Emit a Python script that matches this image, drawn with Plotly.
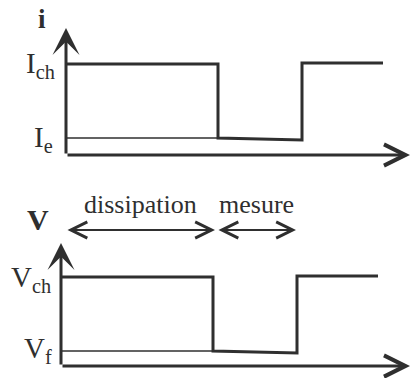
import plotly.graph_objects as go

# Switching instants (same time base for both panels)
t_points = [0, 15.2, 15.2, 23.6, 23.6, 31.7]

# Current waveform: charge level, then measurement level, then back to charge
i_values = [9.1, 9.1, 1.7, 1.5, 9.2, 9.2]
I_e_level = 1.7
i_axis_top = 12.7
i_axis_end = 34.4

# Voltage waveform
v_values = [8.9, 8.9, 1.5, 1.3, 9.0, 9.0]
V_f_level = 1.5
v_axis_top = 12.3
v_axis_end = 34.9

# Phase spans above the voltage panel
phase_names = ["dissipation", "mesure"]
phase_spans = [(0.5, 15.4), (15.6, 23.5)]
phase_y = 13.6

INK = "#2f2f2f"
SERIF = "Liberation Serif"

fig = go.Figure()

# current panel
fig.add_trace(go.Scatter(x=t_points, y=i_values, mode="lines",
                         line=dict(color=INK, width=3), xaxis="x", yaxis="y",
                         hoverinfo="skip"))
fig.add_trace(go.Scatter(x=[t_points[0], t_points[1]], y=[I_e_level, I_e_level],
                         mode="lines", line=dict(color=INK, width=1.6),
                         xaxis="x", yaxis="y", hoverinfo="skip"))

# voltage panel
fig.add_trace(go.Scatter(x=t_points, y=v_values, mode="lines",
                         line=dict(color=INK, width=3), xaxis="x2", yaxis="y2",
                         hoverinfo="skip"))
fig.add_trace(go.Scatter(x=[t_points[0], t_points[1]], y=[V_f_level, V_f_level],
                         mode="lines", line=dict(color=INK, width=1.6),
                         xaxis="x2", yaxis="y2", hoverinfo="skip"))

ann = []


def axis_arrow(xr, yr, x, y, head, size):
    ann.append(dict(x=x, y=y, ax=0, ay=0, xref=xr, yref=yr, axref=xr, ayref=yr,
                    text="", showarrow=True, arrowhead=head, arrowsize=size,
                    arrowwidth=3, arrowcolor=INK))


axis_arrow("x", "y", 0, i_axis_top, 3, 1.5)
axis_arrow("x", "y", i_axis_end, 0, 5, 1.4)
axis_arrow("x2", "y2", 0, v_axis_top, 3, 1.5)
axis_arrow("x2", "y2", v_axis_end, 0, 5, 1.4)

# double arrows marking the two phases
for name, (a, b) in zip(phase_names, phase_spans):
    ann.append(dict(x=b, y=phase_y, ax=a, ay=phase_y, xref="x2", yref="y2",
                    axref="x2", ayref="y2", text="", showarrow=True,
                    arrowhead=5, startarrowhead=5, arrowside="end+start",
                    arrowsize=1.6, startarrowsize=1.6, arrowwidth=2,
                    arrowcolor=INK))
    ann.append(dict(x=(a + b) / 2, y=16.2, xref="x2", yref="y2", text=name,
                    showarrow=False, font=dict(family=SERIF, size=26, color=INK)))

# axis names and level labels
labels = [
    ("x", "y", -2.4, 13.6, "<b>i</b>", "center", 27),
    ("x", "y", -0.9, 9.0, "I<sub>ch</sub>", "right", 29),
    ("x", "y", -1.1, 1.6, "I<sub>e</sub>", "right", 29),
    ("x2", "y2", -2.35, 14.7, "<b>V</b>", "center", 30),
    ("x2", "y2", -0.8, 8.7, "V<sub>ch</sub>", "right", 29),
    ("x2", "y2", -0.7, 1.6, "V<sub>f</sub>", "right", 29),
]
for xr, yr, x, y, txt, xa, size in labels:
    ann.append(dict(x=x, y=y, xref=xr, yref=yr, text=txt, showarrow=False,
                    xanchor=xa, yanchor="middle",
                    font=dict(family=SERIF, size=size, color=INK)))

hidden = dict(visible=False, showgrid=False, zeroline=False, fixedrange=True)
fig.update_layout(
    width=411, height=378,
    margin=dict(l=0, r=0, t=0, b=0),
    paper_bgcolor="white", plot_bgcolor="white",
    showlegend=False,
    xaxis=dict(range=[-6.6, 34.5], domain=[0, 1], anchor="y", **hidden),
    yaxis=dict(range=[-3.4, 15.5], domain=[0.5, 1], anchor="x", **hidden),
    xaxis2=dict(range=[-6.1, 35.0], domain=[0, 1], anchor="y2", **hidden),
    yaxis2=dict(range=[-1.2, 17.7], domain=[0, 0.5], anchor="x2", **hidden),
    annotations=ann,
)

fig.write_html("out.html")
